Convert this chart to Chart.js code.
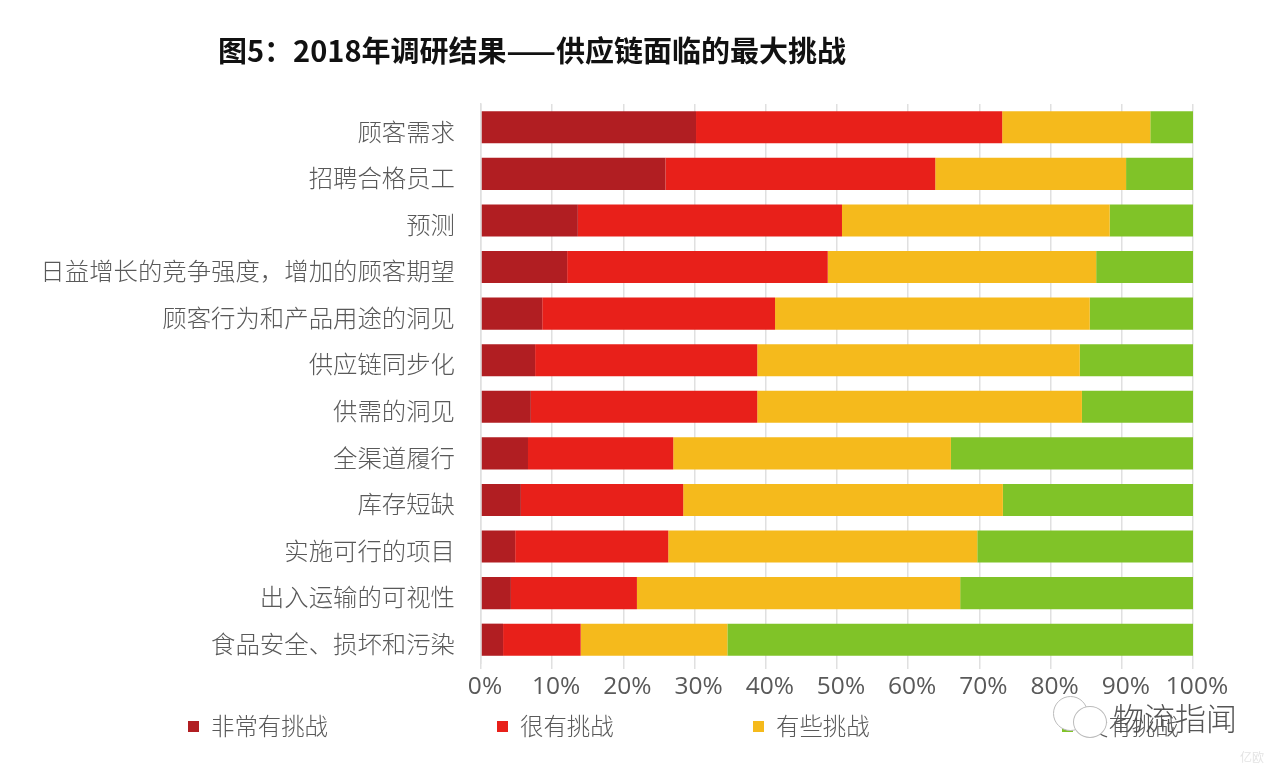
<!DOCTYPE html>
<html>
<head>
<meta charset="utf-8">
<script src="https://cdn.jsdelivr.net/npm/chart.js@4"></script>
<style>
  html, body { margin: 0; padding: 0; background: #fff; }
  #wrap { position: relative; width: 1280px; height: 776px; overflow: hidden; }
  canvas { display: block; }
  #title { position: absolute; left: 218px; top: 30px; font: bold 29px "Noto Sans CJK SC"; color: #111; white-space: nowrap; line-height: 38px; }
  .legend { position: absolute; top: 708px; font: 300 23.4px "Noto Sans CJK SC"; color: #595959; white-space: nowrap; line-height: 34px; }
  .legend i { position: absolute; left: 0; top: 13px; width: 11px; height: 11px; }
  .legend span { margin-left: 23px; }
  .bubble { position: absolute; border: 1px solid #bbb; border-radius: 50%; background: #fff; }
  #mark { position: absolute; left: 1113px; top: 694px; font: 300 31px "Noto Sans CJK SC"; color: #555; white-space: nowrap; }
  #brand { position: absolute; left: 1240px; top: 748px; font: 12px "Noto Sans CJK SC"; color: #e4e4e4; }
</style>
</head>
<body>
<div id="wrap">
  <canvas id="graph" width="1280" height="776"></canvas>
  <div id="title">图5：2018年调研结果——供应链面临的最大挑战</div>
</div>
<script>
const categories = ["顾客需求", "招聘合格员工", "预测", "日益增长的竞争强度，增加的顾客期望", "顾客行为和产品用途的洞见", "供应链同步化", "供需的洞见", "全渠道履行", "库存短缺", "实施可行的项目", "出入运输的可视性", "食品安全、损坏和污染"];
const seriesNames = ["非常有挑战", "很有挑战", "有些挑战", "没有挑战"];
const colors = ["#b11e22", "#e8201a", "#f5ba1c", "#80c328"];
const legendLeft = [188, 497, 753, 1062];

const veryHard = [30.2, 25.9, 13.6, 12.1, 8.6, 7.6, 7.0, 6.6, 5.6, 4.8, 4.2, 3.1];
const hard = [43.0, 37.9, 37.1, 36.6, 32.7, 31.2, 31.8, 20.4, 22.8, 21.5, 17.7, 10.9];
const some = [20.8, 26.8, 37.6, 37.7, 44.2, 45.3, 45.6, 39.0, 44.9, 43.4, 45.4, 20.6];
const none = [6.0, 9.4, 11.7, 13.6, 14.5, 15.9, 15.6, 34.0, 26.7, 30.3, 32.7, 65.4];
const values = [veryHard, hard, some, none];

const wrap = document.getElementById("wrap");
seriesNames.forEach(function (name, i) {
  const item = document.createElement("div");
  item.className = "legend";
  item.style.left = legendLeft[i] + "px";
  item.innerHTML = '<i style="background:' + colors[i] + '"></i><span>' + name + "</span>";
  wrap.appendChild(item);
});

// watermark sits on top of the last legend entry, as in the source image
wrap.insertAdjacentHTML("beforeend",
  '<div class="bubble" style="left:1053px;top:696px;width:33px;height:33px"></div>' +
  '<div class="bubble" style="left:1073px;top:706px;width:32px;height:30px"></div>' +
  '<div id="mark">物流指闻</div><div id="brand">亿欧</div>');

const ctx = document.getElementById("graph").getContext("2d");
new Chart(ctx, {
  type: "bar",
  data: {
    labels: categories,
    datasets: seriesNames.map(function (name, i) {
      return {
        label: name,
        data: values[i],
        backgroundColor: colors[i],
        categoryPercentage: 1,
        barPercentage: 0.69
      };
    })
  },
  options: {
    indexAxis: "y",
    responsive: false,
    devicePixelRatio: 1,
    animation: false,
    layout: { padding: { top: 104, right: 87 } },
    plugins: { legend: { display: false }, title: { display: false }, tooltip: { enabled: false } },
    scales: {
      x: {
        stacked: true,
        min: 0,
        max: 100,
        afterFit: function (scale) { scale.height = 113; },
        ticks: {
          stepSize: 10,
          padding: 3,
          labelOffset: 4,
          color: "#595959",
          font: { family: "Open Sans", size: 24.5 },
          maxRotation: 0,
          callback: function (v) { return v + "%"; }
        },
        grid: { color: "#e0e0e0", lineWidth: 1.5, tickLength: 6 },
        border: { display: false }
      },
      y: {
        stacked: true,
        afterFit: function (scale) { scale.width = 481; },
        ticks: {
          padding: 18,
          labelOffset: 4,
          color: "#595959",
          font: { family: "Noto Sans CJK SC", size: 24.4, weight: 300 }
        },
        grid: { display: false },
        border: { color: "#e0e0e0", width: 1.5 }
      }
    }
  }
});
</script>
</body>
</html>
